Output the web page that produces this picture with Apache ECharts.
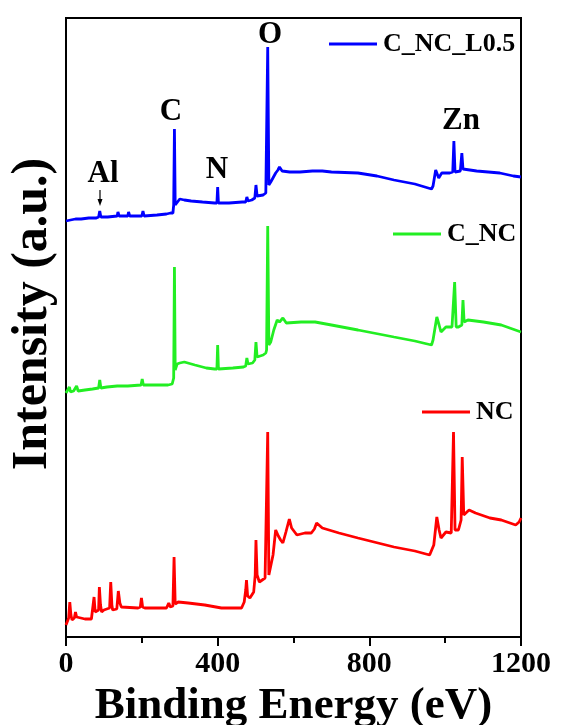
<!DOCTYPE html>
<html>
<head>
<meta charset="utf-8">
<script src="https://cdn.jsdelivr.net/npm/echarts@6/dist/echarts.min.js"></script>
<style>
html,body{margin:0;padding:0;background:#fff;}
#chart{width:561px;height:725px;}
</style>
</head>
<body>
<div id="chart"></div>
<script>
// Binding energy (eV) and intensity (a.u.)
var seriesNames = ['C_NC_L0.5', 'C_NC', 'NC'];
var xTickLabels = ['0', '400', '800', '1200'];

var blueEnergy = [0,5,12,25,40,60,80,86,89,92,110,135,137,140,163,165,168,200,203,206,240,265,276,282,284,286,288,292,300,312,330,360,392,398,400,402,430,465,474,477,480,490,498,501,504,520,527,529,532,535,540,545,553,559,563,570,590,617,650,676,700,770,820,865,920,964,968,975,980,983,991,1012,1020,1023,1026,1031,1040,1044,1047,1052,1083,1144,1180,1200];
var blueIntensity = [416,418,417,418,418,419,419,420,426,420,420,421,425,421,421,425,421,421,426,421,422,423,424,424,432,508,432,433,438,437,436,435,434,434,450,434,434,435,435,440,436,437,439,452,441,442,444,445,590,452,455,455,464,467,470,466,465,465,466,466,465,464,461,457,453,448,451,467,462,459,464,464,465,496,465,465,466,484,468,468,466,464,461,460];

var greenEnergy = [0,5,9,12,20,28,32,50,70,86,89,92,108,110,113,135,137,140,163,165,168,198,201,204,240,269,280,284,286,288,293,300,312,340,370,392,398,400,402,440,468,474,477,480,492,498,501,504,520,527,529,532,535,540,548,557,563,572,581,620,657,700,770,865,920,964,968,978,984,989,1002,1018,1021,1025,1029,1035,1044,1047,1050,1060,1101,1148,1200];
var greenIntensity = [244,246,250,245,246,251,246,247,248,249,257,249,250,252,250,251,253,251,251,252,251,252,258,252,252,252,253,259,370,267,273,274,275,272,269,268,268,292,268,269,270,271,279,273,274,277,295,280,282,284,287,411,292,295,307,317,315,319,314,315,315,312,307,300,296,292,297,320,312,305,310,310,311,355,310,310,312,337,315,317,315,312,305];

var redEnergy = [0,7,10,13,16,22,25,28,31,50,67,72,74,77,80,86,88,91,94,100,115,118,121,123,134,138,142,146,190,196,199,202,208,265,271,275,282,285,288,296,322,366,410,463,470,474,476,479,485,495,499,501,504,510,515,525,529,532,535,539,546,553,560,566,572,580,589,595,609,630,647,655,661,670,676,720,770,865,920,959,964,970,978,984,989,1002,1016,1019,1022,1026,1035,1042,1045,1049,1054,1063,1080,1118,1148,1186,1195,1200];
var redIntensity = [12,19,35,22,17,19,25,20,18,18,18,20,40,25,25,27,50,32,25,27,29,55,32,27,28,46,34,30,29,30,39,30,29,29,34,30,31,80,33,35,34,32,29,29,35,47,57,41,39,45,62,97,62,55,57,59,60,205,62,63,82,107,101,97,94,105,118,109,102,104,104,108,114,111,109,104,99,90,86,82,80,92,120,107,99,105,104,106,205,107,107,117,180,122,124,127,124,119,117,112,115,119];

function pairs(xs, ys) {
  var out = [];
  for (var i = 0; i < xs.length; i++) out.push([xs[i], ys[i]]);
  return out;
}

var FONT = '"Liberation Serif", "Times New Roman", serif';
var colors = ['#0000ff', '#22ee22', '#ff0000'];

var chart = echarts.init(document.getElementById('chart'), null, {renderer: 'canvas'});

function legendAt(name, left, top) {
  return {
    data: [name], left: left, top: top, padding: 0,
    icon: 'rect', itemWidth: 48, itemHeight: 3, itemGap: 0,
    textStyle: {fontFamily: FONT, fontWeight: 'bold', fontSize: 26, color: '#000', padding: [0,0,0,1]},
    selectedMode: false
  };
}

function ann(text, x, y) {
  return {
    type: 'text', x: x, y: y,
    style: {text: text, fontFamily: FONT, fontWeight: 'bold', fontSize: 31, fill: '#000',
            textAlign: 'center', textVerticalAlign: 'middle'}
  };
}

chart.setOption({
  backgroundColor: '#ffffff',
  animation: false,
  grid: {left: 66, right: 40, top: 18, bottom: 88, show: true, borderColor: '#000', borderWidth: 2,
         containLabel: false, outerBoundsMode: 'none'},
  legend: [
    legendAt(seriesNames[0], 329, 31),
    legendAt(seriesNames[1], 393, 221),
    legendAt(seriesNames[2], 422, 399)
  ],
  xAxis: {
    type: 'value', min: 0, max: 1200, interval: 400,
    name: 'Binding Energy (eV)', nameLocation: 'middle', nameGap: 35,
    nameTextStyle: {fontFamily: FONT, fontWeight: 'bold', fontSize: 45, color: '#000'},
    axisLine: {show: true, lineStyle: {color: '#000', width: 2}},
    axisTick: {show: true, inside: false, length: 9, lineStyle: {color: '#000', width: 2}},
    minorTick: {show: true, splitNumber: 2, length: 6, lineStyle: {color: '#000', width: 2}},
    axisLabel: {fontFamily: FONT, fontWeight: 'bold', fontSize: 30, color: '#000', margin: 12,
      formatter: function (v) { var s = String(v); return xTickLabels.indexOf(s) >= 0 ? s : ''; }},
    splitLine: {show: false}
  },
  yAxis: {
    type: 'value', min: 0, max: 619,
    axisLine: {show: true, lineStyle: {color: '#000', width: 2}},
    axisTick: {show: false}, axisLabel: {show: false}, splitLine: {show: false}
  },
  series: [
    {name: seriesNames[0], type: 'line', data: pairs(blueEnergy, blueIntensity), symbol: 'none',
     lineStyle: {color: colors[0], width: 2.8}, itemStyle: {color: colors[0]}},
    {name: seriesNames[1], type: 'line', data: pairs(greenEnergy, greenIntensity), symbol: 'none',
     lineStyle: {color: colors[1], width: 2.8}, itemStyle: {color: colors[1]}},
    {name: seriesNames[2], type: 'line', data: pairs(redEnergy, redIntensity), symbol: 'none',
     lineStyle: {color: colors[2], width: 2.8}, itemStyle: {color: colors[2]}}
  ],
  graphic: [
    {type: 'text', x: 33, y: 314, rotation: Math.PI / 2,
     style: {text: 'Intensity (a.u.)', fontFamily: FONT, fontWeight: 'bold', fontSize: 50, fill: '#000',
             textAlign: 'center', textVerticalAlign: 'middle'}},
    ann('O', 270, 35),
    ann('C', 171, 112),
    ann('N', 217, 170),
    ann('Al', 103, 174),
    ann('Zn', 461, 121),
    {type: 'line', shape: {x1: 100, y1: 190, x2: 100, y2: 200}, style: {stroke: '#000', lineWidth: 1.2}},
    {type: 'polygon', shape: {points: [[97.5, 199], [102.5, 199], [100, 206]]}, style: {fill: '#000'}}
  ]
});
</script>
</body>
</html>
